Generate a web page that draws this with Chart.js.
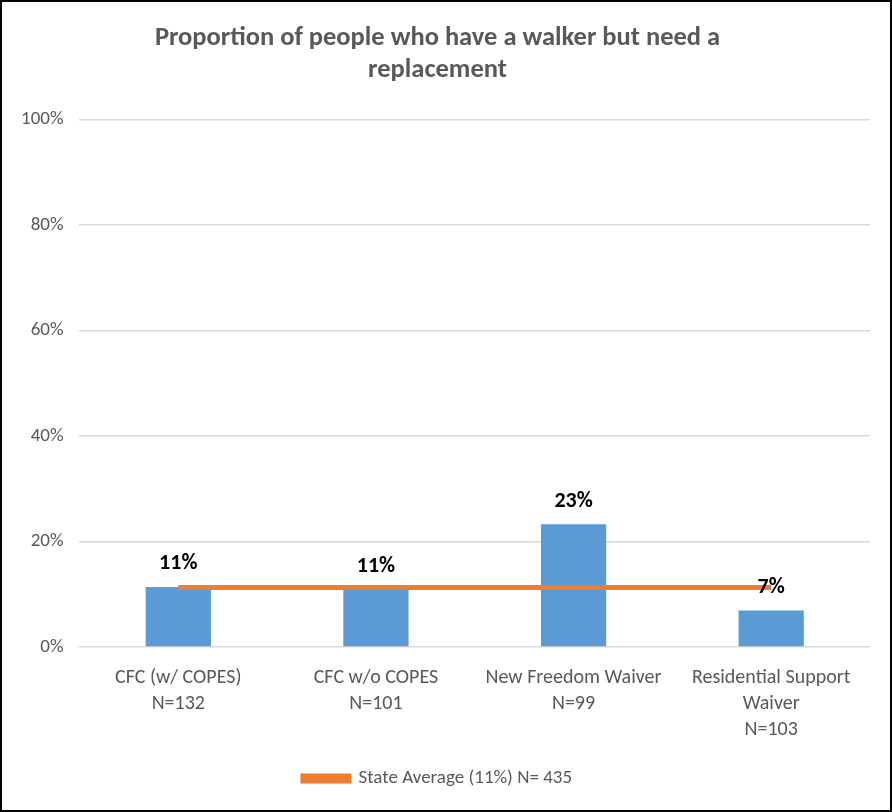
<!DOCTYPE html>
<html>
<head>
<meta charset="utf-8">
<script src="https://cdn.jsdelivr.net/npm/chart.js@4"></script>
<style>
  body { margin: 0; background: #fff; }
  #frame { width: 888px; height: 808px; border: 2px solid #000; }
</style>
</head>
<body>
<div id="frame"><canvas id="chart" width="888" height="808"></canvas></div>
<script>
// Chart data
const categories = [
  ["CFC (w/ COPES)", "N=132"],
  ["CFC w/o COPES", "N=101"],
  ["New Freedom Waiver", "N=99"],
  ["Residential Support", "Waiver", "N=103"]
];
const walkerReplacement = [11.4, 10.9, 23.3, 6.9];
const stateAverage = [11.3, 11.3, 11.3, 11.3];
const stateLabel = "State Average (11%) N= 435";
const tickValues = [0, 20, 40, 60, 80, 100];

const fontFamily = "Carlito, 'Liberation Sans Narrow', 'Open Sans', sans-serif";
const grayText = "#595959";

// Draw the bold value labels above each bar
const valueLabels = {
  id: "valueLabels",
  afterDatasetsDraw(chart) {
    const ctx = chart.ctx;
    const meta = chart.getDatasetMeta(0);
    ctx.save();
    ctx.font = "bold 22px " + fontFamily;
    ctx.fillStyle = "#000";
    ctx.textAlign = "center";
    ctx.textBaseline = "middle";
    meta.data.forEach((bar, i) => {
      ctx.fillText(Math.round(walkerReplacement[i]) + "%", bar.x, bar.y - 23);
    });
    ctx.restore();
  }
};

const ctx = document.getElementById("chart").getContext("2d");
new Chart(ctx, {
  data: {
    labels: categories,
    datasets: [
      {
        type: "bar",
        label: "Proportion",
        data: walkerReplacement,
        backgroundColor: "#5B9BD5",
        barPercentage: 0.33,
        categoryPercentage: 1,
        order: 2
      },
      {
        type: "line",
        label: stateLabel,
        data: stateAverage,
        borderColor: "#ED7D31",
        backgroundColor: "#ED7D31",
        borderWidth: 5,
        pointRadius: 0,
        order: 1
      }
    ]
  },
  options: {
    responsive: false,
    animation: false,
    layout: { padding: { left: 3, right: 20, top: 10, bottom: 12 } },
    plugins: {
      title: {
        display: true,
        text: ["Proportion of people who have a walker but need a", "replacement"],
        color: grayText,
        font: { family: fontFamily, size: 26.5, weight: "bold", lineHeight: 1.22 },
        padding: { top: 10, bottom: 33 }
      },
      legend: {
        position: "bottom",
        labels: {
          filter: item => item.datasetIndex === 1,
          boxWidth: 46,
          boxHeight: 5,
          color: grayText,
          font: { family: fontFamily, size: 19 },
          padding: 16
        }
      },
      tooltip: { enabled: false }
    },
    scales: {
      x: {
        grid: { display: false },
        border: { display: false },
        ticks: {
          color: grayText,
          font: { family: fontFamily, size: 20, lineHeight: 1.3 },
          maxRotation: 0,
          padding: 10
        }
      },
      y: {
        min: 0,
        max: 100,
        afterBuildTicks: axis => { axis.ticks = tickValues.map(v => ({ value: v })); },
        grid: { color: "#d9d9d9", lineWidth: 1.5, drawTicks: false },
        border: { display: false },
        ticks: {
          color: grayText,
          font: { family: fontFamily, size: 19 },
          padding: 16,
          callback: v => v + "%"
        }
      }
    }
  },
  plugins: [valueLabels]
});
</script>
</body>
</html>
